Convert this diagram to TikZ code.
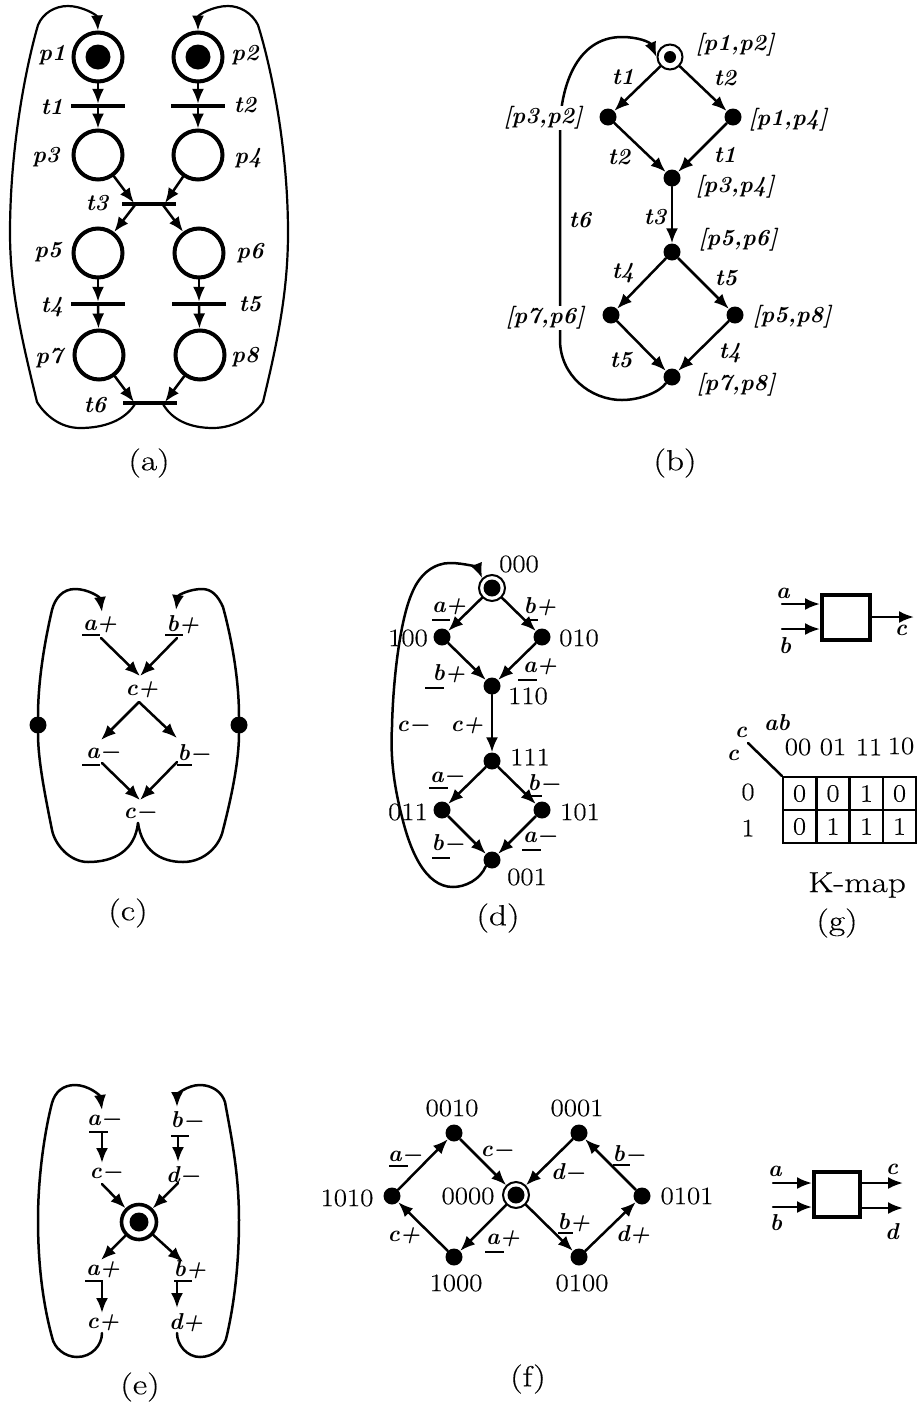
\documentclass[tikz,border=0pt]{standalone}
\usepackage{fontspec}
\newfontfamily\digitsf[FakeBold=0.35,FakeStretch=1.15]{Latin Modern Roman}
\newfontfamily\captf[FakeBold=0.35,FakeStretch=1.22]{Latin Modern Roman}
\usetikzlibrary{arrows.meta,calc}
\newcommand{\undl}[3]{\draw[ulst] (#1,#3) -- (#2,#3);}
\tikzset{
  x=1pt,y=-1pt,
  conn/.style={line width=2.5pt,line cap=round},
  arr/.style={-{Latex[length=15pt,width=12pt]}},
  ulst/.style={line width=2.2pt},
  loopline/.style={line width=2.2pt},
  place/.style={draw,circle,line width=4pt,minimum size=49pt,inner sep=0pt,fill=white},
  token/.style={circle,fill=black,minimum size=25pt,inner sep=0pt},
  bar/.style={rectangle,fill=black,minimum height=4pt,inner sep=0pt},
  dot/.style={circle,fill=black,minimum size=17pt,inner sep=0pt},
  ring/.style={draw,circle,line width=2pt,minimum size=25pt,inner sep=0pt},
  lbl/.style={inner sep=0.5pt,font=\fontsize{23}{25}\selectfont\bfseries\itshape},
  num/.style={inner sep=0.5pt,font=\fontsize{25}{28}\digitsf},
  capt/.style={inner sep=0pt,font=\fontsize{29}{32}\captf},
  cell/.style={draw,line width=2.2pt,minimum width=33pt,minimum height=33pt,inner sep=0pt,font=\fontsize{25}{28}\digitsf},
  gate/.style={draw,line width=4pt,inner sep=0pt},
}
\begin{document}
\begin{tikzpicture}
\useasboundingbox (0,0) rectangle (916,1406);
% ---------- (a)
\foreach \n/\x/\y in {p1/98/57,p2/198/57,p3/98/155,p4/198/155,p5/98/253,p6/199/253,p7/99/355,p8/200/355}
  \node[place] (\n) at (\x,\y) {};
\node[token] (tk1) at (p1) {};
\node[token] (tk2) at (p2) {};
\node[bar,minimum width=54pt] (t1) at (98,106) {};
\node[bar,minimum width=54pt] (t2) at (198,106) {};
\node[bar,minimum width=54pt] (t3) at (149,204) {};
\node[bar,minimum width=54pt] (t4) at (98,304) {};
\node[bar,minimum width=54pt] (t5) at (199,304) {};
\node[bar,minimum width=54pt] (t6) at (150,403) {};
\coordinate (t3a) at (134,203); \coordinate (t3b) at (165,203);
\coordinate (t3c) at (135,205); \coordinate (t3d) at (163,205);
\coordinate (t6a) at (134,402); \coordinate (t6b) at (165,402);
\coordinate (t6c) at (135,404); \coordinate (t6d) at (163,404);
\draw[conn,arr] (p1) -- (t1);
\draw[conn,arr] (t1) -- (p3);
\draw[conn,arr] (p2) -- (t2);
\draw[conn,arr] (t2) -- (p4);
\draw[conn,arr] (p5) -- (t4);
\draw[conn,arr] (t4) -- (p7);
\draw[conn,arr] (p6) -- (t5);
\draw[conn,arr] (t5) -- (p8);
\draw[conn,arr] (p3) -- (t3a);
\draw[conn,arr] (p4) -- (t3b);
\draw[conn,arr] (t3c) -- (p5);
\draw[conn,arr] (t3d) -- (p6);
\draw[conn,arr] (p7) -- (t6a);
\draw[conn,arr] (p8) -- (t6b);
\draw[loopline,arr] (t6c) .. controls (125,420) and (105,428) .. (80,428) .. controls (60,428) and (45,415) .. (37,402) .. controls (22,340) and (10,290) .. (10,233) .. controls (10,150) and (25,70) .. (38,25) .. controls (43,13) and (55,6) .. (68,6) .. controls (82,6) and (97,15) .. (p1.north);
\draw[loopline,arr] (t6d) .. controls (172,420) and (190,428) .. (213,428) .. controls (235,428) and (255,415) .. (263,402) .. controls (278,340) and (288,290) .. (288,233) .. controls (288,150) and (272,70) .. (258,25) .. controls (252,13) and (240,6) .. (228,6) .. controls (213,6) and (198,15) .. (p2.north);
\node[lbl] (lp1) at (52,55) {p1};
\node[lbl] (lp2) at (245,55) {p2};
\node[lbl] (lt1) at (52,107) {t1};
\node[lbl] (lt2) at (245,105) {t2};
\node[lbl] (lp3) at (46,157) {p3};
\node[lbl] (lp4) at (248,158) {p4};
\node[lbl] (lt3) at (97,203) {t3};
\node[lbl] (lp5) at (48,252) {p5};
\node[lbl] (lp6) at (250,253) {p6};
\node[lbl] (lt4) at (52,307) {t4};
\node[lbl] (lt5) at (250,304) {t5};
\node[lbl] (lp7) at (49,358) {p7};
\node[lbl] (lp8) at (245,357) {p8};
\node[lbl] (lt6) at (95,405) {t6};
\node[capt] (capa) at (149,463) {(a)};
% ---------- (b)
\node[dot,minimum size=12pt] (b0) at (670,57) {};
\node[ring] (b0r) at (670,57) {};
\node[dot] (b1) at (608,117) {};
\node[dot] (b2) at (733,117) {};
\node[dot] (b3) at (672,178) {};
\node[dot] (b4) at (672,252) {};
\node[dot] (b5) at (611,315) {};
\node[dot] (b6) at (735,315) {};
\node[dot] (b7) at (672,377) {};
\draw[conn,arr] (b0r) -- (b1);
\draw[conn,arr] (b0r) -- (b2);
\draw[conn,arr] (b1) -- (b3);
\draw[conn,arr] (b2) -- (b3);
\draw[conn,arr] (b3) -- (b4);
\draw[conn,arr] (b4) -- (b5);
\draw[conn,arr] (b4) -- (b6);
\draw[conn,arr] (b5) -- (b7);
\draw[conn,arr] (b6) -- (b7);
\draw[conn,arr] (b7.south west) .. controls (660,392) and (640,400) .. (622,400) .. controls (590,400) and (560,375) .. (560,340) -- (560,130) .. controls (560,90) and (575,37) .. (622,37) .. controls (638,37) and (650,42) .. (b0r.west);
\node[lbl,fill=white] (bl32) at (543,118) {[p3,p2]};
\node[lbl,fill=white] (bl76) at (545,318) {[p7,p6]};
\node[lbl] (bl12) at (735,45) {[p1,p2]};
\node[lbl] (bl14) at (788,120) {[p1,p4]};
\node[lbl] (bl34) at (735,187) {[p3,p4]};
\node[lbl] (bl56) at (738,240) {[p5,p6]};
\node[lbl] (bl58) at (792,317) {[p5,p8]};
\node[lbl] (bl78) at (736,385) {[p7,p8]};
\node[lbl] (bt1) at (623,77) {t1};
\node[lbl] (bt2) at (725,78) {t2};
\node[lbl] (bt2b) at (619,157) {t2};
\node[lbl] (bt1b) at (725,155) {t1};
\node[lbl] (bt3) at (655,217) {t3};
\node[lbl] (bt6) at (580,220) {t6};
\node[lbl] (bt4) at (623,273) {t4};
\node[lbl] (bt5) at (726,278) {t5};
\node[lbl] (bt5b) at (621,360) {t5};
\node[lbl] (bt4b) at (730,353) {t4};
\node[capt] (capb) at (675,463) {(b)};
% ---------- (c)
\node[lbl] (cap) at (100,625) {a+};
\node[lbl] (cbp) at (183,625) {b+};
\node[lbl] (ccp) at (142,690) {c+};
\node[lbl] (cam) at (103,753) {a−};
\node[lbl] (cbm) at (194,753) {b−};
\node[lbl] (ccm) at (140,813) {c−};
\node[dot] (cdl) at (38,725) {};
\node[dot] (cdr) at (239,725) {};
\coordinate (ca1) at (101,638); \coordinate (cb1) at (177,638);
\coordinate (cc1) at (140,676); \coordinate (cc2) at (139,702);
\coordinate (ca2) at (101,740); \coordinate (cb2) at (177,738);
\coordinate (ca3) at (102,763); \coordinate (cb3) at (177,762);
\coordinate (cc3) at (140,800); \coordinate (cc4) at (138,823);
\coordinate (ca4) at (102,612); \coordinate (cb4) at (176,610);
\draw[conn,arr] (ca1) -- (cc1);
\draw[conn,arr] (cb1) -- (cc1);
\draw[conn,arr] (cc2) -- (ca2);
\draw[conn,arr] (cc2) -- (cb2);
\draw[conn,arr] (ca3) -- (cc3);
\draw[conn,arr] (cb3) -- (cc3);
\draw[conn] (cc4) .. controls (135,850) and (115,862) .. (88,862) .. controls (70,862) and (55,845) .. (52,830) .. controls (45,795) and (38,760) .. (cdl);
\draw[conn,arr] (cdl) .. controls (38,680) and (45,640) .. (52,610) .. controls (55,598) and (63,589) .. (75,589) .. controls (88,589) and (100,597) .. (ca4);
\draw[conn] (cc4) .. controls (142,850) and (160,862) .. (183,862) .. controls (205,862) and (220,845) .. (223,830) .. controls (232,795) and (239,760) .. (cdr);
\draw[conn,arr] (cdr) .. controls (239,680) and (232,640) .. (223,607) .. controls (218,596) and (212,589) .. (202,589) .. controls (190,589) and (178,595) .. (cb4);
\undl{82}{100}{635}
\undl{165}{183}{635}
\undl{82}{100}{765}
\undl{177}{192}{765}
\node[capt] (capc) at (128,913) {(c)};
% ---------- (d)
\node[dot] (d0) at (492,588) {};
\node[ring,minimum size=26pt] (d0r) at (492,588) {};
\node[dot] (d1) at (442,637) {};
\node[dot] (d2) at (542,637) {};
\node[dot] (d3) at (492,686) {};
\node[dot] (d4) at (492,761) {};
\node[dot] (d5) at (442,810) {};
\node[dot] (d6) at (542,810) {};
\node[dot] (d7) at (492,860) {};
\draw[conn,arr] (d0r) -- (d1);
\draw[conn,arr] (d0r) -- (d2);
\draw[conn,arr] (d1) -- (d3);
\draw[conn,arr] (d2) -- (d3);
\draw[conn,arr] (d3) -- (d4);
\draw[conn,arr] (d4) -- (d5);
\draw[conn,arr] (d4) -- (d6);
\draw[conn,arr] (d5) -- (d7);
\draw[conn,arr] (d6) -- (d7);
\draw[conn,arr] (d7.south west) .. controls (480,880) and (465,887) .. (453,887) .. controls (425,887) and (410,850) .. (402,817) .. controls (395,790) and (390,760) .. (392,727) .. controls (393,680) and (400,620) .. (412,593) .. controls (420,573) and (435,563) .. (450,563) .. controls (465,563) and (478,568) .. (d0r.north west);
\node[num] (dn0) at (519,564) {000};
\node[num] (dn1) at (408,638) {100};
\node[num] (dn2) at (579,638) {010};
\node[num] (dn3) at (528,696) {110};
\node[num] (dn4) at (530,757) {111};
\node[num] (dn5) at (408,812) {011};
\node[num] (dn6) at (580,812) {101};
\node[num] (dn7) at (527,877) {001};
\node[lbl] (da1) at (449,607) {a+};
\node[lbl] (db1) at (540,607) {b+};
\node[lbl] (db2) at (449,674) {b+};
\node[lbl] (da2) at (540,667) {a+};
\node[lbl] (dcm) at (413,726) {c−};
\node[lbl] (dcp) at (467,726) {c+};
\node[lbl] (da3) at (447,777) {a−};
\node[lbl] (db3) at (544,783) {b−};
\node[lbl] (db4) at (448,843) {b−};
\node[lbl] (da4) at (540,837) {a−};
\undl{432}{450}{620}
\undl{525}{538}{620}
\undl{425}{444}{688}
\undl{518}{537}{680}
\undl{429}{448}{788}
\undl{525}{542}{796}
\undl{432}{450}{858}
\undl{522}{541}{850}
\node[capt] (capd) at (498,918) {(d)};
% ---------- (g)
\node[gate,minimum width=48pt,minimum height=45pt] (gbox) at (846,617) {};
\coordinate (ga) at (782,604);
\coordinate (gb) at (782,629);
\coordinate (gc) at (914,617);
\draw[conn,arr] (ga) -- (ga -| gbox.west);
\draw[conn,arr] (gb) -- (gb -| gbox.west);
\draw[conn,arr] (gbox.east |- gc) -- (gc);
\node[lbl] (gla) at (783,593) {a};
\node[lbl] (glb) at (785,646) {b};
\node[lbl] (glc) at (901,630) {c};
\node[lbl] (kc1) at (741,732) {c};
\node[lbl] (kc2) at (733,755) {c};
\node[lbl] (kab) at (777,723) {ab};
\node[num] (kh1) at (798,747) {00};
\node[num] (kh2) at (833,747) {01};
\node[num] (kh3) at (869,747) {11};
\node[num] (kh4) at (901,746) {10};
\node[num] (kr0) at (748,792) {0};
\node[num] (kr1) at (748,828) {1};
\foreach \nm/\x/\y/\v in {a/799.5/793.5/0,b/833/793.5/0,c/866.5/793.5/1,d/899.5/793.5/0,e/799.5/826.5/0,f/833/826.5/1,g/866.5/826.5/1,h/899.5/826.5/1}
  \node[cell] (k\nm) at (\x,\y) {\v};
\coordinate (kd) at (748,743);
\draw[conn] (kd) -- (ka.north west);
\node[capt] (kmap) at (857,885) {K-map};
\node[capt] (capg) at (837,923) {(g)};
% ---------- (e)
\node[draw,circle,line width=3.6pt,minimum size=35pt,inner sep=0pt] (ec) at (139,1222) {};
\node[circle,fill=black,minimum size=19pt,inner sep=0pt] (ect) at (139,1222) {};
\node[lbl] (eam) at (104,1120) {a−};
\node[lbl] (ebm) at (187,1120) {b−};
\node[lbl] (ecm) at (106,1173) {c−};
\node[lbl] (edm) at (183,1175) {d−};
\node[lbl] (eap) at (103,1270) {a+};
\node[lbl] (ebp) at (190,1270) {b+};
\node[lbl] (ecp) at (103,1323) {c+};
\node[lbl] (edp) at (186,1323) {d+};
\coordinate (ea1) at (102,1132); \coordinate (ec1) at (102,1163);
\coordinate (eb1) at (178,1137); \coordinate (ed1) at (178,1162);
\coordinate (ec2) at (102,1184); \coordinate (ed2) at (178,1183);
\coordinate (ea2) at (101,1260); \coordinate (eb2) at (183,1262);
\coordinate (ea3) at (102,1282); \coordinate (ec3) at (102,1313);
\coordinate (eb3) at (177,1282); \coordinate (ed3) at (177,1308);
\coordinate (ec4) at (102,1333); \coordinate (ed4) at (177,1333);
\coordinate (ea4) at (102,1110); \coordinate (eb4) at (177,1107);
\draw[conn,arr] (ea1) -- (ec1);
\draw[conn,arr] (eb1) -- (ed1);
\draw[conn,arr] (ec2) -- (ec);
\draw[conn,arr] (ed2) -- (ec);
\draw[conn,arr] (ec) -- (ea2);
\draw[conn,arr] (ec) -- (eb2);
\draw[conn,arr] (ea3) -- (ec3);
\draw[conn,arr] (eb3) -- (ed3);
\draw[conn,arr] (ec4) .. controls (102,1345) and (92,1357) .. (77,1357) .. controls (65,1357) and (54,1348) .. (52,1337) .. controls (42,1300) and (38,1260) .. (38,1220) .. controls (38,1175) and (45,1130) .. (52,1103) .. controls (55,1092) and (63,1085) .. (75,1085) .. controls (88,1085) and (100,1095) .. (ea4);
\draw[conn,arr] (ed4) .. controls (177,1345) and (187,1357) .. (200,1357) .. controls (213,1357) and (225,1348) .. (227,1335) .. controls (235,1300) and (239,1260) .. (239,1220) .. controls (239,1175) and (232,1140) .. (225,1102) .. controls (222,1092) and (212,1085) .. (200,1085) .. controls (187,1085) and (177,1095) .. (eb4);
\undl{89}{108}{1132}
\undl{171}{189}{1136}
\undl{85}{103}{1281}
\undl{174}{192}{1281}
\node[capt] (cape) at (140,1387) {(e)};
% ---------- (f)
\node[dot] (fc) at (516,1195) {};
\node[ring,minimum size=26pt] (fcr) at (516,1195) {};
\node[dot] (f1) at (454,1133) {};
\node[dot] (f2) at (579,1133) {};
\node[dot] (f3) at (392,1196) {};
\node[dot] (f4) at (642,1196) {};
\node[dot] (f5) at (454,1257) {};
\node[dot] (f6) at (579,1257) {};
\draw[conn,arr] (f3) -- (f1);
\draw[conn,arr] (f1) -- (fcr);
\draw[conn,arr] (f2) -- (fcr);
\draw[conn,arr] (f4) -- (f2);
\draw[conn,arr] (fcr) -- (f5);
\draw[conn,arr] (fcr) -- (f6);
\draw[conn,arr] (f5) -- (f3);
\draw[conn,arr] (f6) -- (f4);
\node[num] (fn1) at (452,1108) {0010};
\node[num] (fn2) at (577,1108) {0001};
\node[num] (fn3) at (347,1198) {1010};
\node[num] (fn0) at (468,1196) {0000};
\node[num] (fn4) at (687,1196) {0101};
\node[num] (fn5) at (456,1283) {1000};
\node[num] (fn6) at (582,1283) {0100};
\node[lbl] (fam) at (405,1156) {a−};
\node[lbl] (fcm) at (497,1151) {c−};
\node[lbl] (fdm) at (568,1172) {d−};
\node[lbl] (fbm) at (629,1154) {b−};
\node[lbl] (fcp) at (404,1236) {c+};
\node[lbl] (fap) at (503,1239) {a+};
\node[lbl] (fbp) at (574,1223) {b+};
\node[lbl] (fdp) at (633,1235) {d+};
\undl{389}{408}{1166}
\undl{613}{630}{1165}
\undl{485}{504}{1252}
\undl{558}{573}{1233}
\node[capt] (capf) at (528,1379) {(f)};
% ---------- last circuit
\node[gate,minimum width=46pt,minimum height=45pt] (hbox) at (837,1194.5) {};
\coordinate (ha) at (773,1183);
\coordinate (hb) at (773,1207);
\coordinate (hc) at (903,1183);
\coordinate (hd) at (903,1208);
\draw[conn,arr] (ha) -- (ha -| hbox.west);
\draw[conn,arr] (hb) -- (hb -| hbox.west);
\draw[conn,arr] (hbox.east |- hc) -- (hc);
\draw[conn,arr] (hbox.east |- hd) -- (hd);
\node[lbl] (hla) at (775,1171) {a};
\node[lbl] (hlb) at (776,1223) {b};
\node[lbl] (hlc) at (892,1169) {c};
\node[lbl] (hld) at (892,1232) {d};
\end{tikzpicture}
\end{document}
